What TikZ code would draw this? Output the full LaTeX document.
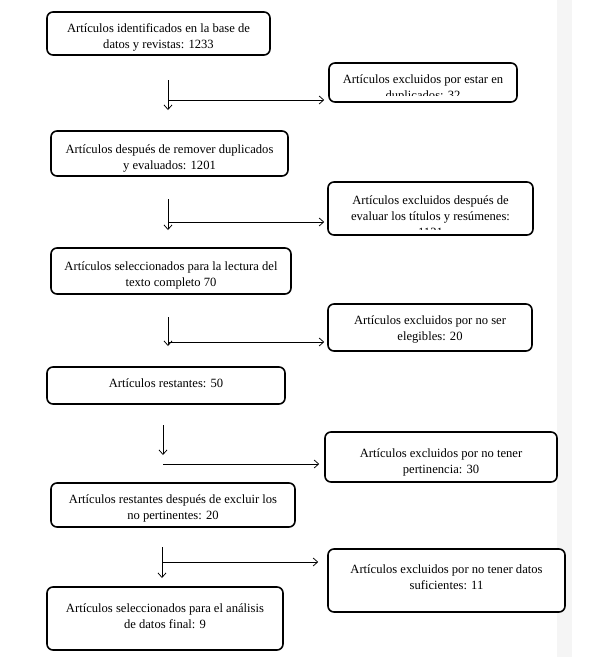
\documentclass[tikz,border=0pt]{standalone}
\usepackage{fontspec}
\setmainfont{Liberation Serif}
\usetikzlibrary{arrows.meta}
\begin{document}
\begin{tikzpicture}[x=1pt,y=-1pt,
  box/.style={draw, line width=1.6pt, rounded corners=6pt, fill=white, inner sep=0pt},
  lbl/.style={align=center, font=\fontsize{12.6}{16}\selectfont, inner sep=0pt},
  txt/.style={lbl, anchor=north},
  arr/.style={line width=0.75pt, -{Straight Barb[length=4.5pt,width=8pt,line width=0.75pt]}}]
\useasboundingbox (0,0) rectangle (589,664);
% light side strip
\fill[gray!8] (557,0) rectangle (572,657);

% left column
\node[box, minimum width=223pt, minimum height=43pt,
  label={[lbl, yshift=-4pt]center:{Artículos identificados en la base de\\datos y revistas: 1233}}] (b1) at (158.5,33.5) {};
\node[box, minimum width=237pt, minimum height=45pt,
  label={[lbl, yshift=-5pt]center:{Artículos después de remover duplicados\\y evaluados: 1201}}] (b3) at (169.5,153.5) {};
\node[box, minimum width=240pt, minimum height=46pt,
  label={[lbl, yshift=-4pt]center:{Artículos seleccionados para la lectura del\\texto completo 70}}] (b5) at (171,271) {};
\node[box, minimum width=238pt, minimum height=37pt,
  label={[lbl, yshift=2pt]center:{Artículos restantes: 50}}] (b7) at (166,385.5) {};
\node[box, minimum width=244pt, minimum height=44pt,
  label={[lbl, yshift=-3pt]center:{Artículos restantes después de excluir los\\no pertinentes: 20}}] (b9) at (173,505) {};
\node[box, minimum width=236pt, minimum height=63pt,
  label={[lbl, yshift=2pt]center:{Artículos seleccionados para el análisis\\de datos final: 9}}] (b11) at (165,618.5) {};

% right column
\node[box, minimum width=188pt, minimum height=39pt] (b2) at (423,82.5) {};
\begin{scope}
  \clip (331,65) rectangle (515,95);
  \node[txt] (t2) at (423,74.5) {Artículos excluidos por estar en\\duplicados: 32};
\end{scope}
\node[box, minimum width=205pt, minimum height=53pt] (b4) at (430.5,208.5) {};
\begin{scope}
  \clip (330,184) rectangle (531,229.5);
  \node[txt] (t4) at (430.5,195.5) {Artículos excluidos después de\\evaluar los títulos y resúmenes:\\1131};
\end{scope}
\node[box, minimum width=204pt, minimum height=47pt,
  label={[lbl, yshift=-2pt]center:{Artículos excluidos por no ser\\elegibles: 20}}] (b6) at (430,327.5) {};
\node[box, minimum width=232pt, minimum height=50pt,
  label={[lbl, yshift=-5pt]center:{Artículos excluidos por no tener\\pertinencia: 30}}] (b8) at (441,457) {};
\node[box, minimum width=237pt, minimum height=63pt,
  label={[lbl, yshift=3pt]center:{Artículos excluidos por no tener datos\\suficientes: 11}}] (b10) at (446.5,580.5) {};

% connectors
\coordinate (v1s) at (168,80);  \coordinate (v1e) at (168,110); \coordinate (h1) at (168,100);
\coordinate (v2s) at (168,199); \coordinate (v2e) at (168,230); \coordinate (h2) at (168,222);
\coordinate (v3s) at (168,317); \coordinate (v3e) at (168,346); \coordinate (h3) at (168,342);
\coordinate (v4s) at (163,425); \coordinate (v4e) at (163,455); \coordinate (h4) at (163,464);
\coordinate (v5s) at (162,547); \coordinate (v5e) at (162,578); \coordinate (h5) at (162,562);

\draw[arr] (v1s) -- (v1e);
\draw[arr] (h1) -- ([xshift=-4pt]b2.west |- h1);
\draw[arr] (v2s) -- (v2e);
\draw[arr] (h2) -- ([xshift=-3pt]b4.west |- h2);
\draw[arr] (v3s) -- (v3e);
\draw[arr] (h3) -- ([xshift=-3pt]b6.west |- h3);
\draw[arr] (v4s) -- (v4e);
\draw[arr] (h4) -- ([xshift=-5pt]b8.west |- h4);
\draw[arr] (v5s) -- (v5e);
\draw[arr] (h5) -- ([xshift=-9pt]b10.west |- h5);
\end{tikzpicture}
\end{document}
